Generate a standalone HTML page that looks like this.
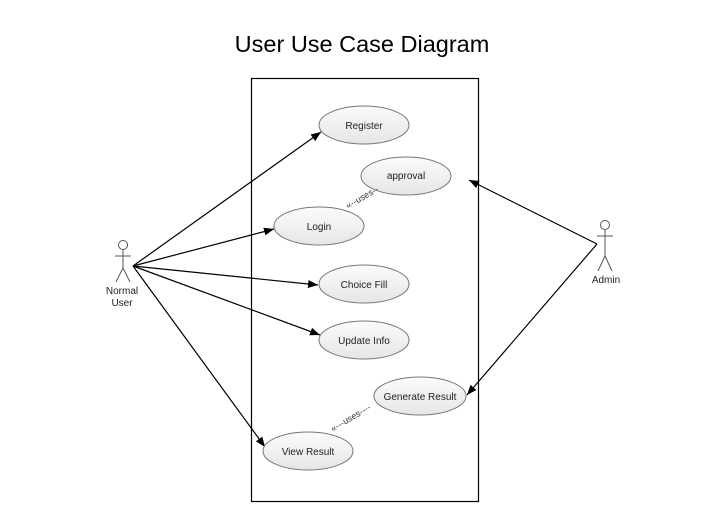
<!DOCTYPE html>
<html><head><style>body{margin:0;background:#fff}</style></head><body>
<svg width="722" height="527" xmlns="http://www.w3.org/2000/svg" font-family="Liberation Sans, sans-serif">
<defs>
<linearGradient id="g" x1="0" y1="0" x2="0" y2="1"><stop offset="0" stop-color="#fbfbfb"/><stop offset="1" stop-color="#e6e6e6"/></linearGradient>
<marker id="a" markerWidth="10" markerHeight="8" refX="10" refY="4" orient="auto" markerUnits="userSpaceOnUse"><path d="M0,0 L10,4 L0,8 z" fill="#000"/></marker>
</defs>
<text x="362" y="52" font-size="23.5" text-anchor="middle">User Use Case Diagram</text>
<rect x="251.5" y="78.5" width="227" height="423" fill="none" stroke="#000" stroke-width="1.2"/>
<g stroke="#000" stroke-width="1.2" marker-end="url(#a)">
<line x1="133" y1="266" x2="321" y2="132"/>
<line x1="133" y1="266" x2="274" y2="229"/>
<line x1="133" y1="266" x2="318" y2="285"/>
<line x1="133" y1="266" x2="320" y2="335"/>
<line x1="133" y1="266" x2="265" y2="447"/>
<line x1="597" y1="244" x2="469" y2="180"/>
<line x1="597" y1="244" x2="467" y2="395"/>
</g>
<g fill="url(#g)" stroke="#777" stroke-width="1">
<ellipse cx="364" cy="125" rx="45" ry="19"/>
<ellipse cx="406" cy="176" rx="45" ry="19"/>
<ellipse cx="319" cy="226" rx="45" ry="19"/>
<ellipse cx="364" cy="284" rx="45" ry="19"/>
<ellipse cx="364" cy="340" rx="45" ry="19"/>
<ellipse cx="420" cy="396" rx="46" ry="19"/>
<ellipse cx="308" cy="451" rx="45" ry="19"/>
</g>
<g font-size="9" fill="#333">
<text transform="translate(348,209) rotate(-30)">«--uses--</text>
<text transform="translate(333,432) rotate(-31)">«---uses----</text>
</g>
<g font-size="10" text-anchor="middle" fill="#222">
<text x="364" y="129">Register</text>
<text x="406" y="179">approval</text>
<text x="319" y="230">Login</text>
<text x="364" y="288">Choice Fill</text>
<text x="364" y="344">Update Info</text>
<text x="420" y="400">Generate Result</text>
<text x="308" y="455">View Result</text>
<text x="122" y="294">Normal</text>
<text x="122" y="306">User</text>
<text x="606" y="283">Admin</text>
</g>
<g stroke="#555" stroke-width="1" fill="none">
<circle cx="123" cy="245" r="4.5" fill="#fff"/>
<line x1="123" y1="250" x2="123" y2="268"/><line x1="115" y1="256" x2="131" y2="256"/>
<line x1="123" y1="268" x2="116" y2="282"/><line x1="123" y1="268" x2="130" y2="282"/>
<circle cx="605" cy="225" r="4.5" fill="#fff"/>
<line x1="605" y1="230" x2="605" y2="256"/><line x1="597" y1="236" x2="613" y2="236"/>
<line x1="605" y1="256" x2="598" y2="271"/><line x1="605" y1="256" x2="612" y2="271"/>
</g>
</svg>
</body></html>
